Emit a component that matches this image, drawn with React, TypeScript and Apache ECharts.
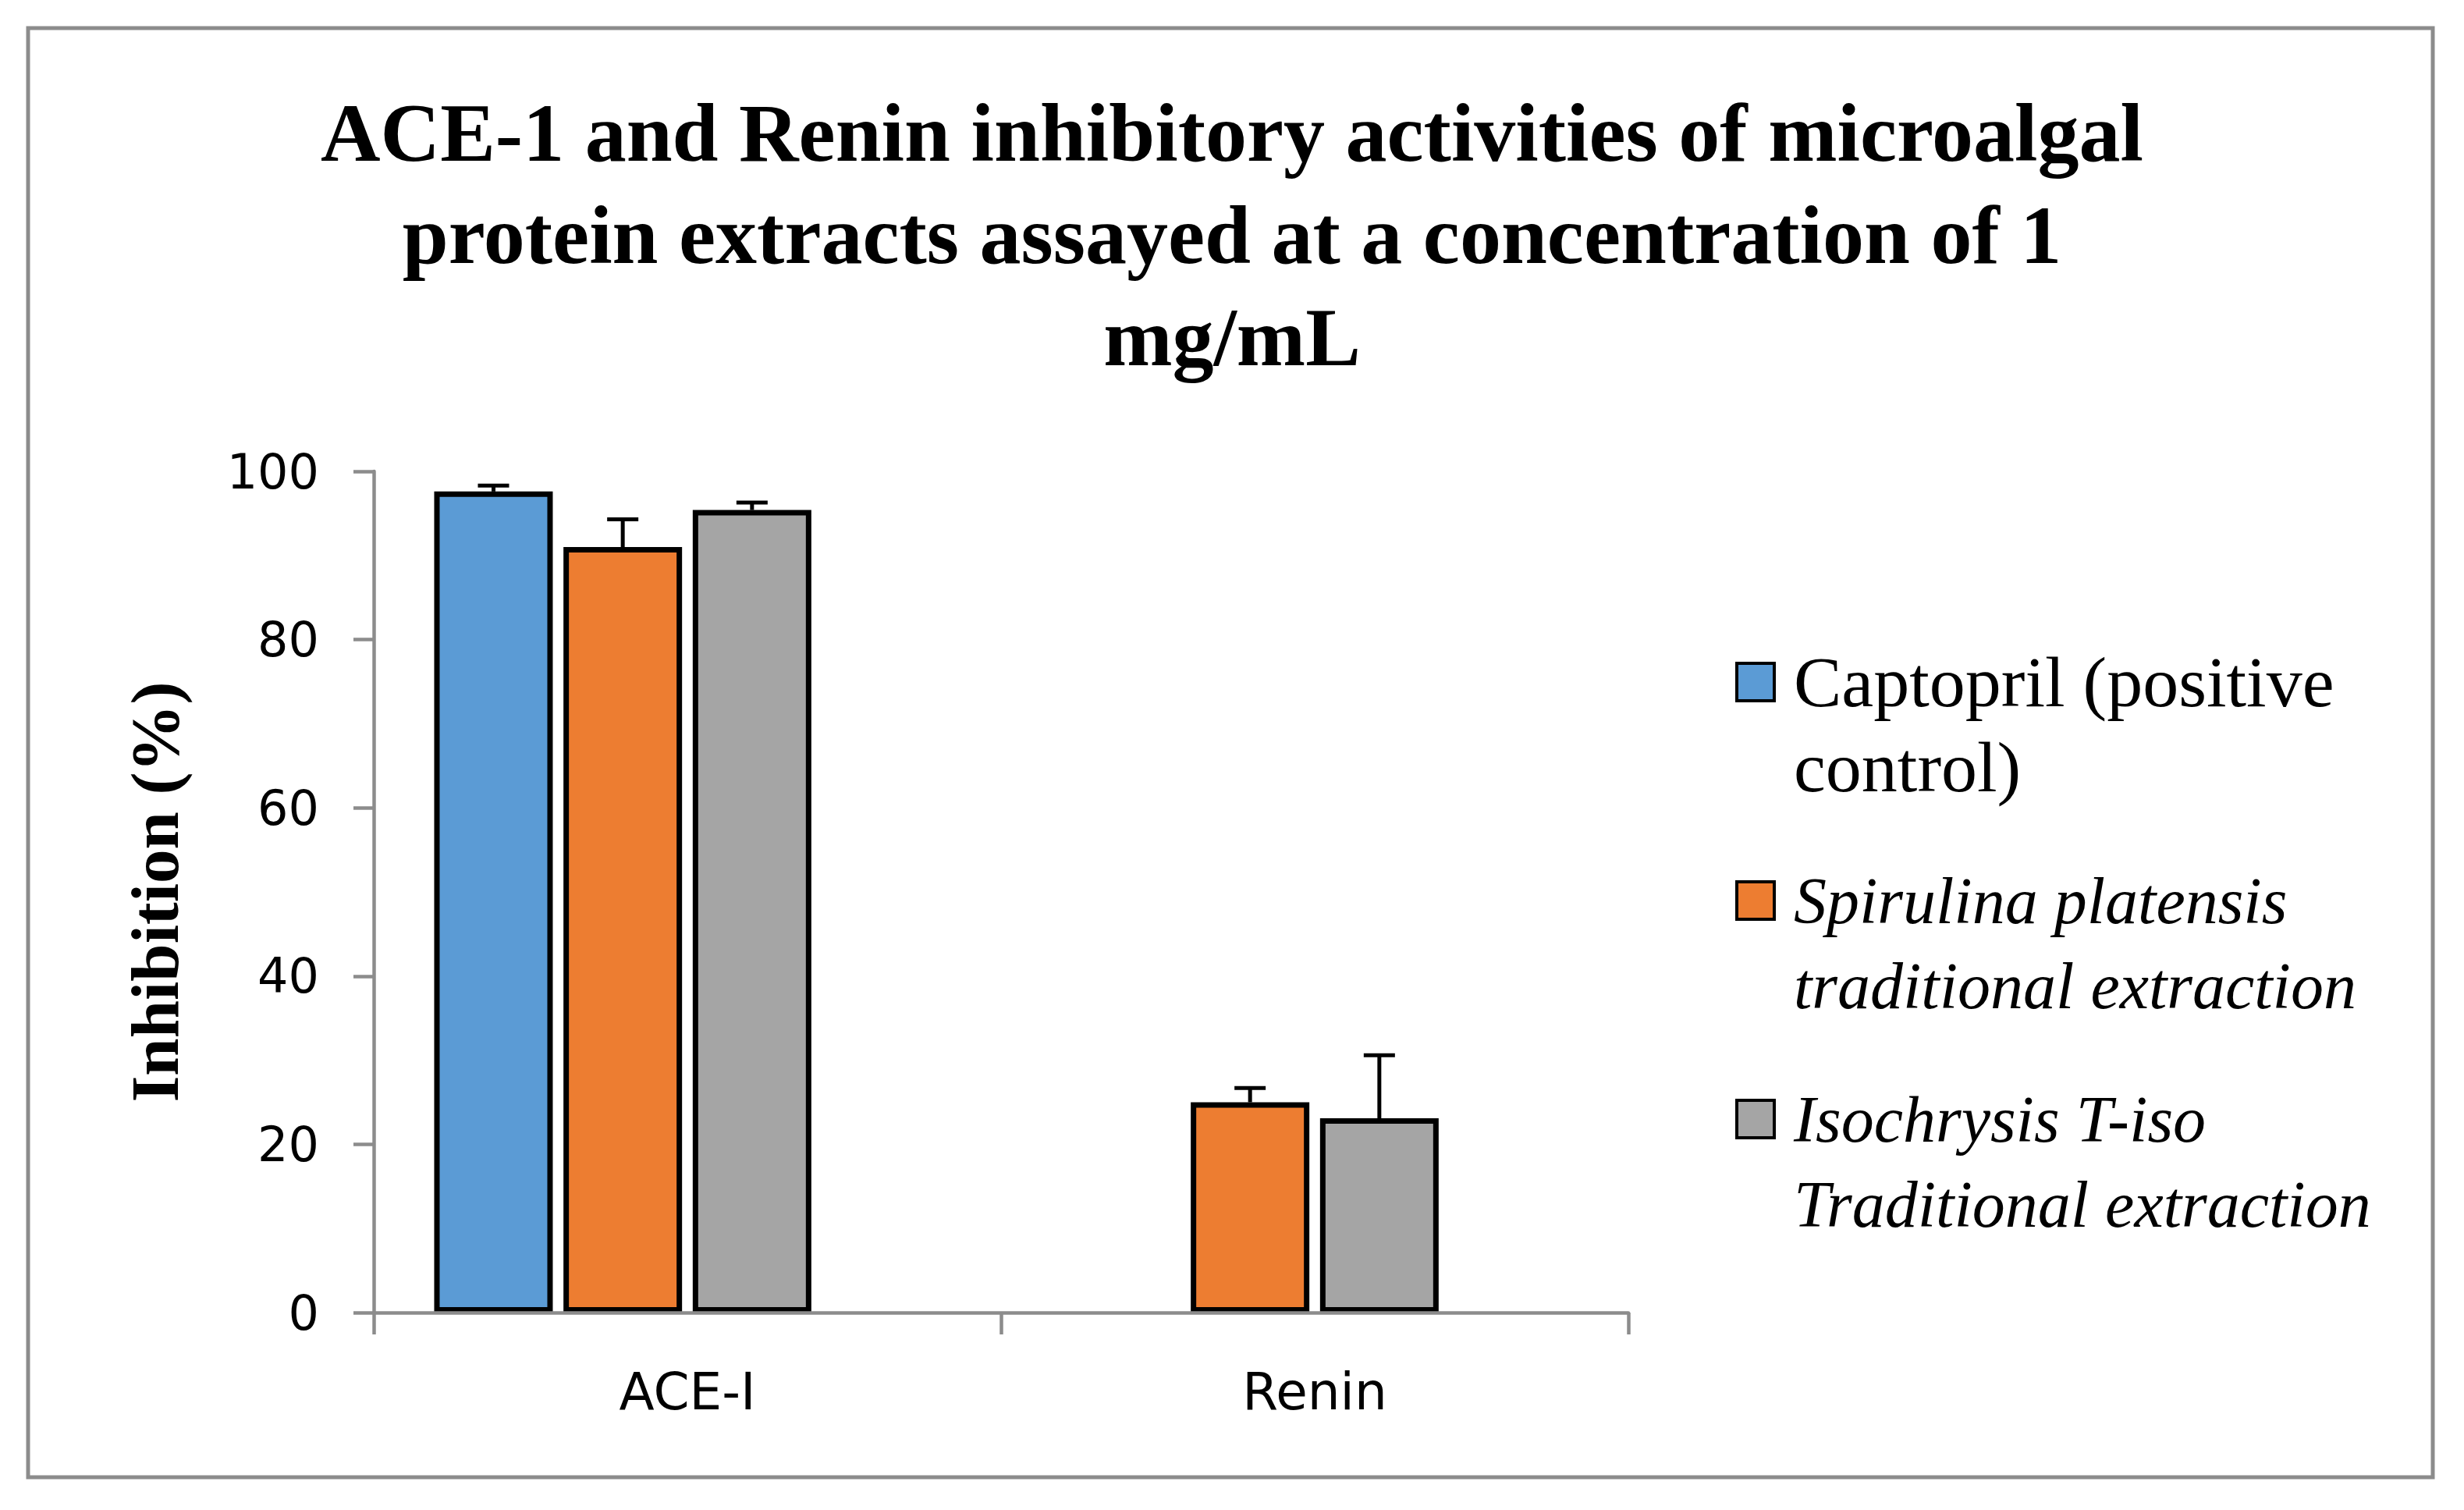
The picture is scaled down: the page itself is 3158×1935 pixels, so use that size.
import React, { useEffect, useRef } from "react";
import * as echarts from "echarts";

const categories = ["ACE-I", "Renin"];
const seriesNames = [
  "Captopril (positive control)",
  "Spirulina platensis traditional extraction",
  "Isochrysis T-iso Traditional extraction",
];
const legendLabels = [
  "\nCaptopril (positive\ncontrol)",
  "\nSpirulina platensis\ntraditional extraction",
  "\nIsochrysis T-iso\nTraditional extraction",
];
const captopril = [97.6, null];
const spirulina = [91.0, 25.0];
const isochrysis = [95.4, 23.1];
const captoprilErr = [0.7, null];
const spirulinaErr = [3.3, 1.7];
const isochrysisErr = [0.9, 7.5];
const yMin = 0;
const yMax = 100;
const yInterval = 20;

const colors = ["#5B9BD5", "#ED7D31", "#A5A5A5"];
const AXIS_COLOR = "#8c8c8c";
const BAR_W = 152;
const BAR_GAP = 0.09;
const SLOTS = 4;

export default function App() {
  const ref = useRef<HTMLDivElement>(null);
  useEffect(() => {
    document.body.style.margin = "0";
    const chart = echarts.init(ref.current!, null, { renderer: "svg" });
    const values = [captopril, spirulina, isochrysis];
    const errs = [captoprilErr, spirulinaErr, isochrysisErr];
    const step = BAR_W * (1 + BAR_GAP);

    const barSeries: any[] = values.map((vals, i) => ({
      type: "bar",
      name: seriesNames[i],
      data: vals,
      barWidth: BAR_W,
      barGap: BAR_GAP * 100 + "%",
      itemStyle: { color: colors[i], borderColor: "#000", borderWidth: 7 },
      z: 2,
    }));
    barSeries.push({
      type: "bar",
      name: "blank",
      data: [null, null],
      barWidth: BAR_W,
      barGap: BAR_GAP * 100 + "%",
    });

    const errSeries: any[] = values.map((vals, i) => ({
      type: "custom",
      name: seriesNames[i] + " err",
      z: 3,
      data: vals
        .map((v, c) => (v == null || errs[i][c] == null ? null : [c, v, errs[i][c]]))
        .filter((d) => d != null),
      encode: { x: 0, y: 1 },
      renderItem: (params: any, api: any) => {
        const c = api.value(0);
        const v = api.value(1);
        const e = api.value(2);
        const base = api.coord([c, v]);
        const top = api.coord([c, v + e]);
        const x = base[0] + (i - (SLOTS - 1) / 2) * step;
        const st = { stroke: "#000", lineWidth: 5 };
        return {
          type: "group",
          children: [
            { type: "line", shape: { x1: x, y1: base[1], x2: x, y2: top[1] }, style: st },
            { type: "line", shape: { x1: x - 20, y1: top[1], x2: x + 20, y2: top[1] }, style: st },
          ],
        };
      },
    }));

    const iconCenters = [874, 1154, 1434];
    const legendSizes = [92, 84, 84];
    const legends = seriesNames.map((n, i) => ({
      data: [n],
      orient: "vertical",
      left: 2224,
      top: iconCenters[i] - 163.5,
      padding: 0,
      itemWidth: 48,
      itemHeight: 48,
      icon: "rect",
      selectedMode: false,
      itemStyle: { borderColor: "#000", borderWidth: 4 },
      formatter: () => legendLabels[i],
      textStyle: {
        fontFamily: "Liberation Serif",
        fontSize: legendSizes[i],
        lineHeight: 109,
        fontStyle: i > 0 ? "italic" : "normal",
        color: "#000",
        padding: [0, 0, 0, 20],
      },
    }));

    chart.setOption({
      animation: false,
      backgroundColor: "#fff",
      title: {
        text: "ACE-1 and Renin inhibitory activities of microalgal\nprotein extracts assayed at a concentration of 1\nmg/mL",
        left: "center",
        top: 100,
        textStyle: {
          fontFamily: "Liberation Serif",
          fontWeight: "bold",
          fontSize: 106,
          lineHeight: 131,
          color: "#000",
        },
      },
      legend: legends,
      grid: { left: 479, top: 604, width: 1608, height: 1078 },
      xAxis: {
        type: "category",
        data: categories,
        z: 10,
        axisLine: { lineStyle: { color: AXIS_COLOR, width: 4.5 } },
        axisTick: { show: true, length: 28, lineStyle: { color: AXIS_COLOR, width: 4.5 } },
        axisLabel: { fontFamily: "DejaVu Sans", fontSize: 66, color: "#000", margin: 68 },
      },
      yAxis: {
        type: "value",
        min: yMin,
        max: yMax,
        interval: yInterval,
        name: "Inhibition (%)",
        nameLocation: "middle",
        nameGap: 237,
        nameTextStyle: {
          fontFamily: "Liberation Serif",
          fontWeight: "bold",
          fontSize: 87,
          color: "#000",
        },
        axisLine: { show: true, lineStyle: { color: AXIS_COLOR, width: 4.5 } },
        axisTick: { show: true, length: 26, lineStyle: { color: AXIS_COLOR, width: 4.5 } },
        splitLine: { show: false },
        axisLabel: { fontFamily: "DejaVu Sans", fontSize: 62, color: "#000", margin: 70 },
      },
      graphic: [
        {
          type: "rect",
          shape: { x: 36, y: 36, width: 3082, height: 1857 },
          style: { fill: "none", stroke: AXIS_COLOR, lineWidth: 5 },
          silent: true,
        },
      ],
      series: [...barSeries, ...errSeries],
    });
    return () => chart.dispose();
  }, []);
  return <div ref={ref} style={{ width: 3158, height: 1935 }} />;
}
